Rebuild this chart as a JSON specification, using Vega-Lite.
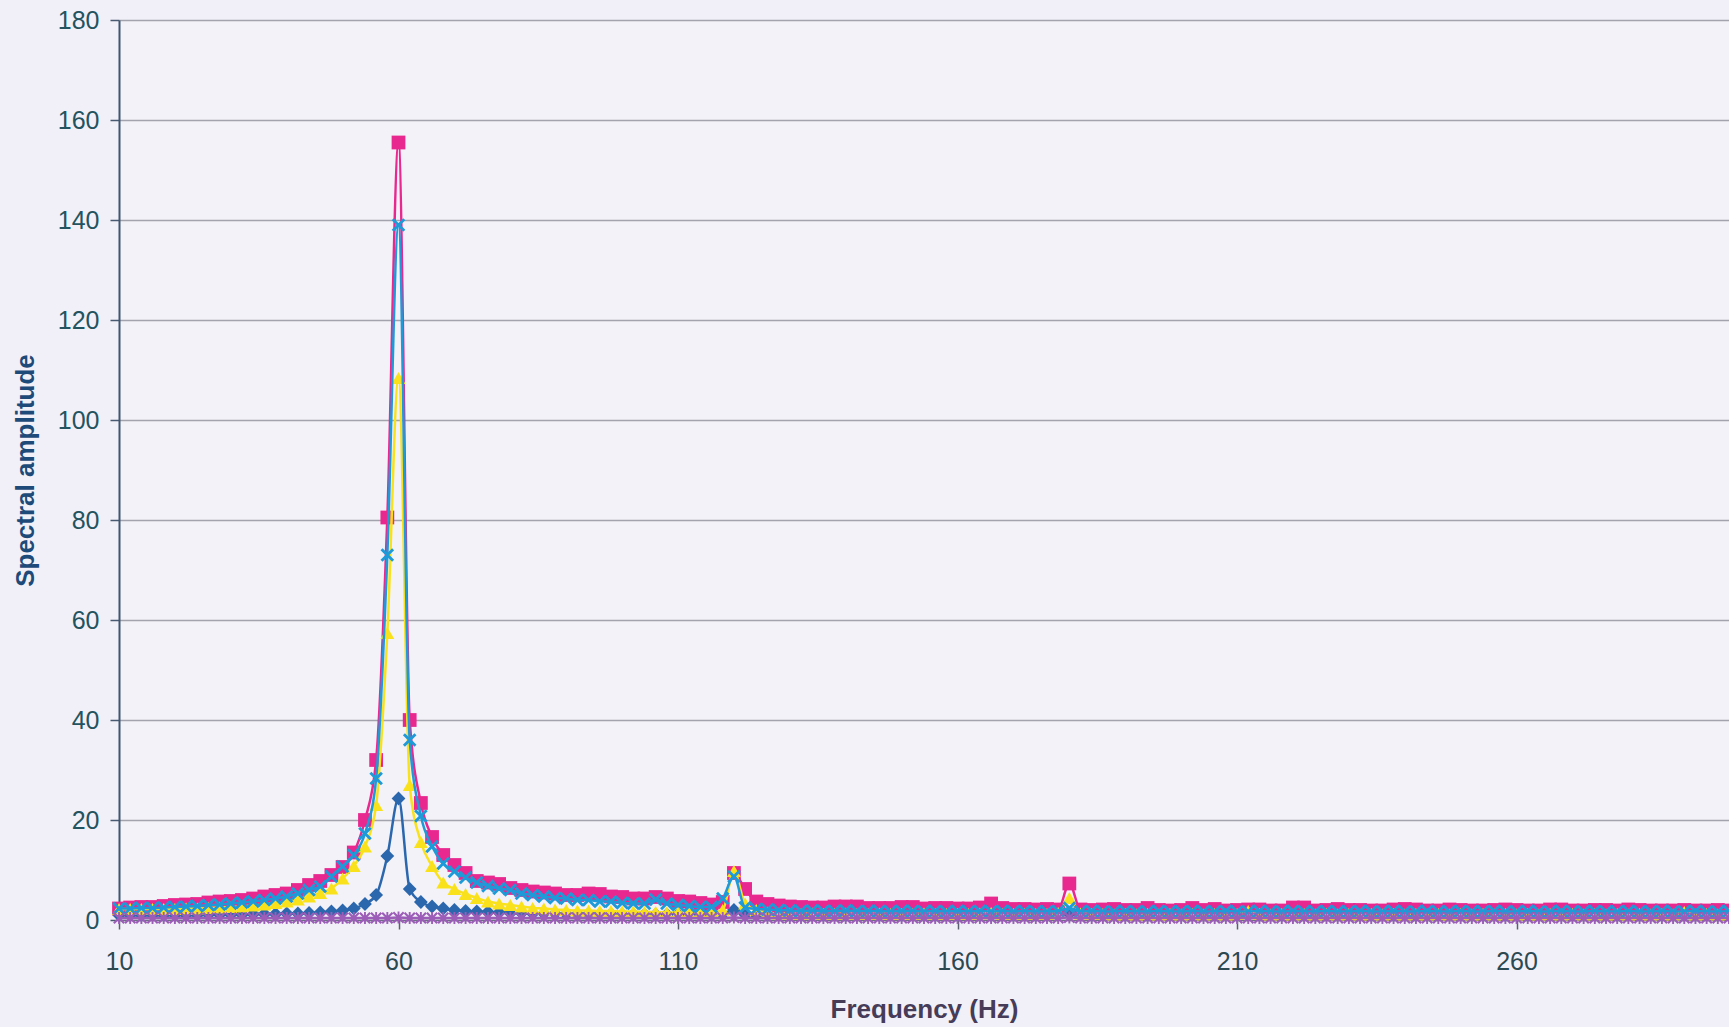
{
  "$schema": "https://vega.github.io/schema/vega-lite/v6.json",
  "width": 1610,
  "height": 900,
  "autosize": "none",
  "padding": {"left": 119, "top": 20, "right": 0, "bottom": 107},
  "background": "#f1f0f8",
  "config": {
    "view": {"stroke": null, "fill": "#f3f2f9"},
    "axis": {"labelFont": "Liberation Sans", "titleFont": "Liberation Sans"}
  },
  "datasets": {
    "d": [
      {"f":10,"a":1.0},{"f":12,"a":1.0},{"f":14,"a":1.0},{"f":16,"a":1.0},{"f":18,"a":1.0},{"f":20,"a":1.0},{"f":22,"a":1.0},{"f":24,"a":1.0},{"f":26,"a":1.1},{"f":28,"a":1.1},
      {"f":30,"a":1.1},{"f":32,"a":1.1},{"f":34,"a":1.2},{"f":36,"a":1.2},{"f":38,"a":1.2},{"f":40,"a":1.3},{"f":42,"a":1.3},{"f":44,"a":1.4},{"f":46,"a":1.5},{"f":48,"a":1.7},
      {"f":50,"a":1.9},{"f":52,"a":2.3},{"f":54,"a":3.2},{"f":56,"a":5.0},{"f":58,"a":12.8},{"f":60,"a":24.3},{"f":62,"a":6.2},{"f":64,"a":3.6},{"f":66,"a":2.7},{"f":68,"a":2.3},
      {"f":70,"a":2.0},{"f":72,"a":1.8},{"f":74,"a":1.7},{"f":76,"a":1.6},{"f":78,"a":1.5},{"f":80,"a":1.4},{"f":82,"a":1.4},{"f":84,"a":1.3},{"f":86,"a":1.3},{"f":88,"a":1.3},
      {"f":90,"a":1.2},{"f":92,"a":1.2},{"f":94,"a":1.2},{"f":96,"a":1.2},{"f":98,"a":1.2},{"f":100,"a":1.1},{"f":102,"a":1.1},{"f":104,"a":1.1},{"f":106,"a":1.1},{"f":108,"a":1.1},
      {"f":110,"a":1.1},{"f":112,"a":1.1},{"f":114,"a":1.1},{"f":116,"a":1.1},{"f":118,"a":1.2},{"f":120,"a":2.0},{"f":122,"a":1.1},{"f":124,"a":1.0},{"f":126,"a":1.0},{"f":128,"a":1.0},
      {"f":130,"a":1.0},{"f":132,"a":1.0},{"f":134,"a":1.0},{"f":136,"a":1.0},{"f":138,"a":1.0},{"f":140,"a":1.0},{"f":142,"a":1.0},{"f":144,"a":1.0},{"f":146,"a":1.0},{"f":148,"a":1.0},
      {"f":150,"a":1.0},{"f":152,"a":1.0},{"f":154,"a":1.0},{"f":156,"a":1.0},{"f":158,"a":1.0},{"f":160,"a":1.0},{"f":162,"a":1.0},{"f":164,"a":1.0},{"f":166,"a":1.0},{"f":168,"a":1.0},
      {"f":170,"a":1.0},{"f":172,"a":1.0},{"f":174,"a":1.0},{"f":176,"a":1.0},{"f":178,"a":1.0},{"f":180,"a":1.3},{"f":182,"a":1.0},{"f":184,"a":1.0},{"f":186,"a":1.0},{"f":188,"a":1.0},
      {"f":190,"a":1.0},{"f":192,"a":1.0},{"f":194,"a":1.0},{"f":196,"a":1.0},{"f":198,"a":1.0},{"f":200,"a":1.0},{"f":202,"a":1.0},{"f":204,"a":1.0},{"f":206,"a":1.0},{"f":208,"a":1.0},
      {"f":210,"a":1.0},{"f":212,"a":1.0},{"f":214,"a":1.0},{"f":216,"a":1.0},{"f":218,"a":1.0},{"f":220,"a":1.0},{"f":222,"a":1.0},{"f":224,"a":1.0},{"f":226,"a":1.0},{"f":228,"a":1.0},
      {"f":230,"a":1.0},{"f":232,"a":1.0},{"f":234,"a":1.0},{"f":236,"a":1.0},{"f":238,"a":1.0},{"f":240,"a":1.0},{"f":242,"a":1.0},{"f":244,"a":1.0},{"f":246,"a":1.0},{"f":248,"a":1.0},
      {"f":250,"a":1.0},{"f":252,"a":1.0},{"f":254,"a":1.0},{"f":256,"a":1.0},{"f":258,"a":1.0},{"f":260,"a":1.0},{"f":262,"a":1.0},{"f":264,"a":1.0},{"f":266,"a":1.0},{"f":268,"a":1.0},
      {"f":270,"a":1.0},{"f":272,"a":1.0},{"f":274,"a":1.0},{"f":276,"a":1.0},{"f":278,"a":1.0},{"f":280,"a":1.0},{"f":282,"a":1.0},{"f":284,"a":1.0},{"f":286,"a":1.0},{"f":288,"a":1.0},
      {"f":290,"a":1.0},{"f":292,"a":1.0},{"f":294,"a":1.0},{"f":296,"a":1.0},{"f":298,"a":1.0}
    ],
    "p": [
      {"f":10,"a":2.3},{"f":12,"a":2.5},{"f":14,"a":2.6},{"f":16,"a":2.6},{"f":18,"a":2.8},{"f":20,"a":3.0},{"f":22,"a":3.1},{"f":24,"a":3.2},{"f":26,"a":3.5},{"f":28,"a":3.7},
      {"f":30,"a":3.8},{"f":32,"a":4.0},{"f":34,"a":4.3},{"f":36,"a":4.7},{"f":38,"a":5.0},{"f":40,"a":5.3},{"f":42,"a":6.0},{"f":44,"a":7.0},{"f":46,"a":7.8},{"f":48,"a":9.0},
      {"f":50,"a":10.6},{"f":52,"a":13.5},{"f":54,"a":20.0},{"f":56,"a":32.0},{"f":58,"a":80.5},{"f":60,"a":155.5},{"f":62,"a":40.0},{"f":64,"a":23.4},{"f":66,"a":16.6},{"f":68,"a":13.0},
      {"f":70,"a":11.0},{"f":72,"a":9.4},{"f":74,"a":7.8},{"f":76,"a":7.5},{"f":78,"a":7.2},{"f":80,"a":6.4},{"f":82,"a":6.0},{"f":84,"a":5.7},{"f":86,"a":5.5},{"f":88,"a":5.3},
      {"f":90,"a":5.0},{"f":92,"a":5.0},{"f":94,"a":5.3},{"f":96,"a":5.2},{"f":98,"a":4.7},{"f":100,"a":4.6},{"f":102,"a":4.3},{"f":104,"a":4.3},{"f":106,"a":4.6},{"f":108,"a":4.3},
      {"f":110,"a":3.8},{"f":112,"a":3.7},{"f":114,"a":3.4},{"f":116,"a":3.1},{"f":118,"a":3.6},{"f":120,"a":9.4},{"f":122,"a":6.2},{"f":124,"a":3.7},{"f":126,"a":3.2},{"f":128,"a":2.9},
      {"f":130,"a":2.7},{"f":132,"a":2.6},{"f":134,"a":2.5},{"f":136,"a":2.5},{"f":138,"a":2.7},{"f":140,"a":2.7},{"f":142,"a":2.7},{"f":144,"a":2.4},{"f":146,"a":2.4},{"f":148,"a":2.4},
      {"f":150,"a":2.6},{"f":152,"a":2.6},{"f":154,"a":2.3},{"f":156,"a":2.4},{"f":158,"a":2.4},{"f":160,"a":2.3},{"f":162,"a":2.3},{"f":164,"a":2.5},{"f":166,"a":3.3},{"f":168,"a":2.4},
      {"f":170,"a":2.2},{"f":172,"a":2.2},{"f":174,"a":2.1},{"f":176,"a":2.2},{"f":178,"a":2.1},{"f":180,"a":7.3},{"f":182,"a":2.1},{"f":184,"a":2.0},{"f":186,"a":2.1},{"f":188,"a":2.2},
      {"f":190,"a":2.0},{"f":192,"a":2.0},{"f":194,"a":2.4},{"f":196,"a":2.0},{"f":198,"a":1.9},{"f":200,"a":2.0},{"f":202,"a":2.4},{"f":204,"a":2.0},{"f":206,"a":2.2},{"f":208,"a":1.9},
      {"f":210,"a":2.0},{"f":212,"a":2.1},{"f":214,"a":2.1},{"f":216,"a":1.9},{"f":218,"a":1.9},{"f":220,"a":2.5},{"f":222,"a":2.5},{"f":224,"a":1.9},{"f":226,"a":2.0},{"f":228,"a":2.2},
      {"f":230,"a":2.0},{"f":232,"a":2.0},{"f":234,"a":1.9},{"f":236,"a":1.9},{"f":238,"a":2.1},{"f":240,"a":2.2},{"f":242,"a":2.1},{"f":244,"a":1.9},{"f":246,"a":1.9},{"f":248,"a":2.1},
      {"f":250,"a":2.0},{"f":252,"a":1.9},{"f":254,"a":1.9},{"f":256,"a":2.0},{"f":258,"a":2.1},{"f":260,"a":2.0},{"f":262,"a":1.9},{"f":264,"a":1.9},{"f":266,"a":2.1},{"f":268,"a":2.1},
      {"f":270,"a":1.9},{"f":272,"a":1.9},{"f":274,"a":2.0},{"f":276,"a":2.0},{"f":278,"a":1.9},{"f":280,"a":2.1},{"f":282,"a":2.0},{"f":284,"a":1.9},{"f":286,"a":1.9},{"f":288,"a":1.9},
      {"f":290,"a":2.0},{"f":292,"a":1.9},{"f":294,"a":1.9},{"f":296,"a":2.0},{"f":298,"a":1.9}
    ],
    "y": [
      {"f":10,"a":2.2},{"f":12,"a":2.2},{"f":14,"a":2.2},{"f":16,"a":2.2},{"f":18,"a":2.2},{"f":20,"a":2.2},{"f":22,"a":2.3},{"f":24,"a":2.3},{"f":26,"a":2.4},{"f":28,"a":2.5},
      {"f":30,"a":2.6},{"f":32,"a":2.7},{"f":34,"a":2.9},{"f":36,"a":3.1},{"f":38,"a":3.4},{"f":40,"a":3.7},{"f":42,"a":4.1},{"f":44,"a":4.7},{"f":46,"a":5.4},{"f":48,"a":6.3},
      {"f":50,"a":8.3},{"f":52,"a":10.8},{"f":54,"a":14.7},{"f":56,"a":23.0},{"f":58,"a":57.4},{"f":60,"a":108.4},{"f":62,"a":27.0},{"f":64,"a":15.6},{"f":66,"a":10.8},{"f":68,"a":7.5},
      {"f":70,"a":6.2},{"f":72,"a":5.2},{"f":74,"a":4.4},{"f":76,"a":3.7},{"f":78,"a":3.3},{"f":80,"a":3.0},{"f":82,"a":2.7},{"f":84,"a":2.4},{"f":86,"a":2.3},{"f":88,"a":2.1},
      {"f":90,"a":2.0},{"f":92,"a":1.9},{"f":94,"a":1.9},{"f":96,"a":1.8},{"f":98,"a":1.8},{"f":100,"a":1.7},{"f":102,"a":1.7},{"f":104,"a":1.6},{"f":106,"a":1.6},{"f":108,"a":1.5},
      {"f":110,"a":1.5},{"f":112,"a":1.5},{"f":114,"a":1.4},{"f":116,"a":1.5},{"f":118,"a":2.0},{"f":120,"a":9.8},{"f":122,"a":3.3},{"f":124,"a":2.0},{"f":126,"a":1.5},{"f":128,"a":1.3},
      {"f":130,"a":1.3},{"f":132,"a":1.2},{"f":134,"a":1.3},{"f":136,"a":1.2},{"f":138,"a":1.2},{"f":140,"a":1.3},{"f":142,"a":1.2},{"f":144,"a":1.2},{"f":146,"a":1.3},{"f":148,"a":1.2},
      {"f":150,"a":1.2},{"f":152,"a":1.2},{"f":154,"a":1.3},{"f":156,"a":1.2},{"f":158,"a":1.2},{"f":160,"a":1.2},{"f":162,"a":1.2},{"f":164,"a":1.3},{"f":166,"a":1.4},{"f":168,"a":1.2},
      {"f":170,"a":1.2},{"f":172,"a":1.2},{"f":174,"a":1.2},{"f":176,"a":1.2},{"f":178,"a":1.4},{"f":180,"a":4.4},{"f":182,"a":1.3},{"f":184,"a":1.2},{"f":186,"a":1.2},{"f":188,"a":1.1},
      {"f":190,"a":1.2},{"f":192,"a":1.1},{"f":194,"a":1.2},{"f":196,"a":1.1},{"f":198,"a":1.2},{"f":200,"a":1.1},{"f":202,"a":1.2},{"f":204,"a":1.1},{"f":206,"a":1.2},{"f":208,"a":1.1},
      {"f":210,"a":1.2},{"f":212,"a":1.8},{"f":214,"a":1.2},{"f":216,"a":1.1},{"f":218,"a":1.2},{"f":220,"a":1.1},{"f":222,"a":1.2},{"f":224,"a":1.1},{"f":226,"a":1.2},{"f":228,"a":1.1},
      {"f":230,"a":1.2},{"f":232,"a":1.1},{"f":234,"a":1.2},{"f":236,"a":1.1},{"f":238,"a":1.2},{"f":240,"a":1.1},{"f":242,"a":1.2},{"f":244,"a":1.1},{"f":246,"a":1.2},{"f":248,"a":1.1},
      {"f":250,"a":1.2},{"f":252,"a":1.1},{"f":254,"a":1.2},{"f":256,"a":1.1},{"f":258,"a":1.2},{"f":260,"a":1.1},{"f":262,"a":1.2},{"f":264,"a":1.1},{"f":266,"a":1.2},{"f":268,"a":1.1},
      {"f":270,"a":1.2},{"f":272,"a":1.1},{"f":274,"a":1.2},{"f":276,"a":1.1},{"f":278,"a":1.2},{"f":280,"a":1.1},{"f":282,"a":1.2},{"f":284,"a":1.1},{"f":286,"a":1.2},{"f":288,"a":1.1},
      {"f":290,"a":1.6},{"f":292,"a":1.1},{"f":294,"a":1.2},{"f":296,"a":1.1},{"f":298,"a":1.2}
    ],
    "c": [
      {"f":10,"a":2.3},{"f":12,"a":2.3},{"f":14,"a":2.4},{"f":16,"a":2.4},{"f":18,"a":2.5},{"f":20,"a":2.6},{"f":22,"a":2.7},{"f":24,"a":2.8},{"f":26,"a":3.0},{"f":28,"a":3.1},
      {"f":30,"a":3.3},{"f":32,"a":3.5},{"f":34,"a":3.7},{"f":36,"a":4.0},{"f":38,"a":4.3},{"f":40,"a":4.7},{"f":42,"a":5.3},{"f":44,"a":6.0},{"f":46,"a":6.7},{"f":48,"a":8.7},
      {"f":50,"a":10.7},{"f":52,"a":13.0},{"f":54,"a":17.3},{"f":56,"a":28.3},{"f":58,"a":73.0},{"f":60,"a":139.0},{"f":62,"a":36.0},{"f":64,"a":20.8},{"f":66,"a":14.7},{"f":68,"a":11.3},
      {"f":70,"a":9.7},{"f":72,"a":8.5},{"f":74,"a":7.5},{"f":76,"a":6.8},{"f":78,"a":6.3},{"f":80,"a":6.0},{"f":82,"a":5.3},{"f":84,"a":5.0},{"f":86,"a":4.7},{"f":88,"a":4.4},
      {"f":90,"a":4.3},{"f":92,"a":4.0},{"f":94,"a":4.0},{"f":96,"a":3.7},{"f":98,"a":3.7},{"f":100,"a":3.4},{"f":102,"a":3.3},{"f":104,"a":3.3},{"f":106,"a":4.1},{"f":108,"a":3.3},
      {"f":110,"a":3.0},{"f":112,"a":2.8},{"f":114,"a":2.6},{"f":116,"a":2.6},{"f":118,"a":4.3},{"f":120,"a":8.7},{"f":122,"a":2.5},{"f":124,"a":2.2},{"f":126,"a":2.1},{"f":128,"a":2.0},
      {"f":130,"a":1.9},{"f":132,"a":1.8},{"f":134,"a":1.9},{"f":136,"a":1.8},{"f":138,"a":1.8},{"f":140,"a":1.9},{"f":142,"a":1.8},{"f":144,"a":1.8},{"f":146,"a":1.8},{"f":148,"a":1.7},
      {"f":150,"a":1.8},{"f":152,"a":1.8},{"f":154,"a":1.7},{"f":156,"a":1.8},{"f":158,"a":1.7},{"f":160,"a":1.8},{"f":162,"a":1.7},{"f":164,"a":1.8},{"f":166,"a":1.7},{"f":168,"a":1.8},
      {"f":170,"a":1.7},{"f":172,"a":1.8},{"f":174,"a":1.7},{"f":176,"a":1.7},{"f":178,"a":1.8},{"f":180,"a":2.4},{"f":182,"a":1.7},{"f":184,"a":1.8},{"f":186,"a":1.7},{"f":188,"a":1.7},
      {"f":190,"a":1.8},{"f":192,"a":1.7},{"f":194,"a":1.7},{"f":196,"a":1.8},{"f":198,"a":1.7},{"f":200,"a":1.7},{"f":202,"a":1.8},{"f":204,"a":1.7},{"f":206,"a":1.7},{"f":208,"a":1.8},
      {"f":210,"a":1.7},{"f":212,"a":1.7},{"f":214,"a":1.8},{"f":216,"a":1.7},{"f":218,"a":1.7},{"f":220,"a":1.8},{"f":222,"a":1.7},{"f":224,"a":1.7},{"f":226,"a":1.8},{"f":228,"a":1.7},
      {"f":230,"a":1.7},{"f":232,"a":1.8},{"f":234,"a":1.7},{"f":236,"a":1.7},{"f":238,"a":1.8},{"f":240,"a":1.7},{"f":242,"a":1.7},{"f":244,"a":1.8},{"f":246,"a":1.7},{"f":248,"a":1.7},
      {"f":250,"a":1.8},{"f":252,"a":1.7},{"f":254,"a":1.7},{"f":256,"a":1.8},{"f":258,"a":1.7},{"f":260,"a":1.7},{"f":262,"a":1.8},{"f":264,"a":1.7},{"f":266,"a":1.7},{"f":268,"a":1.8},
      {"f":270,"a":1.7},{"f":272,"a":1.7},{"f":274,"a":1.8},{"f":276,"a":1.7},{"f":278,"a":1.7},{"f":280,"a":1.8},{"f":282,"a":1.7},{"f":284,"a":1.7},{"f":286,"a":1.8},{"f":288,"a":1.7},
      {"f":290,"a":1.7},{"f":292,"a":1.8},{"f":294,"a":1.7},{"f":296,"a":1.7},{"f":298,"a":1.8}
    ],
    "u": [
      {"f":10,"a":0.4},{"f":12,"a":0.4},{"f":14,"a":0.4},{"f":16,"a":0.4},{"f":18,"a":0.4},{"f":20,"a":0.4},{"f":22,"a":0.4},{"f":24,"a":0.4},{"f":26,"a":0.4},{"f":28,"a":0.4},
      {"f":30,"a":0.4},{"f":32,"a":0.4},{"f":34,"a":0.4},{"f":36,"a":0.4},{"f":38,"a":0.4},{"f":40,"a":0.4},{"f":42,"a":0.4},{"f":44,"a":0.4},{"f":46,"a":0.4},{"f":48,"a":0.4},
      {"f":50,"a":0.4},{"f":52,"a":0.4},{"f":54,"a":0.4},{"f":56,"a":0.4},{"f":58,"a":0.4},{"f":60,"a":0.5},{"f":62,"a":0.4},{"f":64,"a":0.4},{"f":66,"a":0.4},{"f":68,"a":0.4},
      {"f":70,"a":0.4},{"f":72,"a":0.4},{"f":74,"a":0.4},{"f":76,"a":0.4},{"f":78,"a":0.4},{"f":80,"a":0.4},{"f":82,"a":0.4},{"f":84,"a":0.4},{"f":86,"a":0.4},{"f":88,"a":0.4},
      {"f":90,"a":0.4},{"f":92,"a":0.4},{"f":94,"a":0.4},{"f":96,"a":0.4},{"f":98,"a":0.4},{"f":100,"a":0.4},{"f":102,"a":0.4},{"f":104,"a":0.4},{"f":106,"a":0.4},{"f":108,"a":0.4},
      {"f":110,"a":0.4},{"f":112,"a":0.4},{"f":114,"a":0.4},{"f":116,"a":0.4},{"f":118,"a":0.4},{"f":120,"a":0.5},{"f":122,"a":0.4},{"f":124,"a":0.4},{"f":126,"a":0.4},{"f":128,"a":0.4},
      {"f":130,"a":0.4},{"f":132,"a":0.4},{"f":134,"a":0.4},{"f":136,"a":0.4},{"f":138,"a":0.4},{"f":140,"a":0.4},{"f":142,"a":0.4},{"f":144,"a":0.4},{"f":146,"a":0.4},{"f":148,"a":0.4},
      {"f":150,"a":0.4},{"f":152,"a":0.4},{"f":154,"a":0.4},{"f":156,"a":0.4},{"f":158,"a":0.4},{"f":160,"a":0.4},{"f":162,"a":0.4},{"f":164,"a":0.4},{"f":166,"a":0.4},{"f":168,"a":0.4},
      {"f":170,"a":0.4},{"f":172,"a":0.4},{"f":174,"a":0.4},{"f":176,"a":0.4},{"f":178,"a":0.4},{"f":180,"a":0.5},{"f":182,"a":0.4},{"f":184,"a":0.4},{"f":186,"a":0.4},{"f":188,"a":0.4},
      {"f":190,"a":0.4},{"f":192,"a":0.4},{"f":194,"a":0.4},{"f":196,"a":0.4},{"f":198,"a":0.4},{"f":200,"a":0.4},{"f":202,"a":0.4},{"f":204,"a":0.4},{"f":206,"a":0.4},{"f":208,"a":0.4},
      {"f":210,"a":0.4},{"f":212,"a":0.4},{"f":214,"a":0.4},{"f":216,"a":0.4},{"f":218,"a":0.4},{"f":220,"a":0.4},{"f":222,"a":0.4},{"f":224,"a":0.4},{"f":226,"a":0.4},{"f":228,"a":0.4},
      {"f":230,"a":0.4},{"f":232,"a":0.4},{"f":234,"a":0.4},{"f":236,"a":0.4},{"f":238,"a":0.4},{"f":240,"a":0.4},{"f":242,"a":0.4},{"f":244,"a":0.4},{"f":246,"a":0.4},{"f":248,"a":0.4},
      {"f":250,"a":0.4},{"f":252,"a":0.4},{"f":254,"a":0.4},{"f":256,"a":0.4},{"f":258,"a":0.4},{"f":260,"a":0.4},{"f":262,"a":0.4},{"f":264,"a":0.4},{"f":266,"a":0.4},{"f":268,"a":0.4},
      {"f":270,"a":0.4},{"f":272,"a":0.4},{"f":274,"a":0.4},{"f":276,"a":0.4},{"f":278,"a":0.4},{"f":280,"a":0.4},{"f":282,"a":0.4},{"f":284,"a":0.4},{"f":286,"a":0.4},{"f":288,"a":0.4},
      {"f":290,"a":0.4},{"f":292,"a":0.4},{"f":294,"a":0.4},{"f":296,"a":0.4},{"f":298,"a":0.4}
    ]
  },
  "encoding": {
    "x": {
      "field": "f", "type": "quantitative",
      "scale": {"domain": [10, 298], "nice": false, "zero": false},
      "axis": {
        "values": [10, 60, 110, 160, 210, 260],
        "grid": false,
        "title": "Frequency (Hz)",
        "titleFontSize": 26, "titleFontWeight": "bold", "titleColor": "#463c58",
        "titleY": 97, "titleBaseline": "alphabetic",
        "labelFontSize": 25, "labelColor": "#2c4850", "labelPadding": 20,
        "labelFlush": false, "labelOverlap": false,
        "tickSize": 9, "tickColor": "#5a6070", "tickWidth": 1.5,
        "domainColor": "#6a7080", "domainWidth": 1.5
      }
    },
    "y": {
      "field": "a", "type": "quantitative",
      "scale": {"domain": [0, 180], "nice": false},
      "axis": {
        "values": [0, 20, 40, 60, 80, 100, 120, 140, 160, 180],
        "grid": true, "gridColor": "#a3a3ad", "gridWidth": 1.5,
        "title": "Spectral amplitude",
        "titleFontSize": 26, "titleFontWeight": "bold", "titleColor": "#1d4a78",
        "titleX": -86, "titleY": 450, "titleAngle": -90, "titleBaseline": "alphabetic", "titleAlign": "center",
        "labelFontSize": 25, "labelColor": "#23535f", "labelPadding": 11,
        "labelFlush": false, "labelOverlap": false,
        "tickSize": 9, "tickColor": "#4a5a70", "tickWidth": 1.5,
        "domainColor": "#3f5570", "domainWidth": 2
      }
    }
  },
  "layer": [
    {
      "data": {"name": "d"},
      "mark": {"type": "line", "color": "#2b67ad", "strokeWidth": 2.5, "interpolate": "monotone",
        "point": {"shape": "diamond", "size": 190, "filled": true, "color": "#2b67ad", "opacity": 1}}
    },
    {
      "data": {"name": "p"},
      "mark": {"type": "line", "color": "#e8288f", "strokeWidth": 2.5, "interpolate": "monotone",
        "point": {"shape": "square", "size": 190, "filled": true, "color": "#e8288f", "opacity": 1}}
    },
    {
      "data": {"name": "y"},
      "mark": {"type": "line", "color": "#f9e21b", "strokeWidth": 2.5, "interpolate": "monotone",
        "point": {"shape": "triangle-up", "size": 195, "filled": true, "color": "#f9e21b", "opacity": 1}}
    },
    {
      "data": {"name": "c"},
      "mark": {"type": "line", "color": "#1f9ad8", "strokeWidth": 2.5, "interpolate": "monotone",
        "point": {"shape": "M-1,-0.7L-0.7,-1L0,-0.3L0.7,-1L1,-0.7L0.3,0L1,0.7L0.7,1L0,0.3L-0.7,1L-1,0.7L-0.3,0Z", "size": 185, "filled": true, "color": "#1f9ad8", "opacity": 1}}
    },
    {
      "data": {"name": "u"},
      "mark": {"type": "line", "color": "#9c5db8", "strokeWidth": 2.5, "interpolate": "monotone",
        "point": {"shape": "M-1,-0.74L-0.74,-1L0,-0.26L0.74,-1L1,-0.74L0.26,0L1,0.74L0.74,1L0,0.26L-0.74,1L-1,0.74L-0.26,0ZM-0.16,-1L0.16,-1L0.16,1L-0.16,1Z", "size": 140, "filled": true, "color": "#9c5db8", "opacity": 1}}
    }
  ]
}
